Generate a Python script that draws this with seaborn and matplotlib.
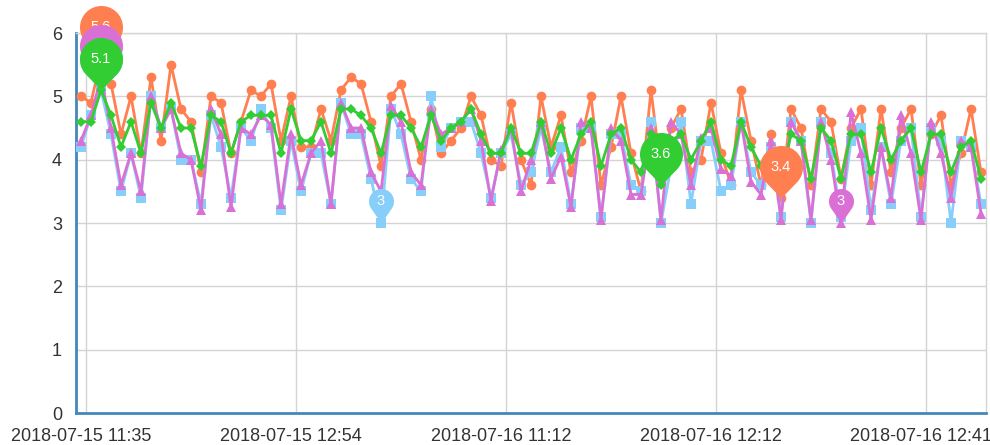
import numpy as np
import pandas as pd
import matplotlib
matplotlib.use("Agg")
import matplotlib.pyplot as plt
from matplotlib.path import Path
import seaborn as sns

# ---------------- data ----------------
tick_labels = ["2018-07-15 11:35", "2018-07-15 12:54", "2018-07-16 11:12",
               "2018-07-16 12:12", "2018-07-16 12:41"]
label_interval = 21

series_names = ["A", "B", "C", "D"]

orange = [5.0, 4.9, 5.6, 5.2, 4.4, 5.0, 4.1, 5.3, 4.3, 5.5,
          4.8, 4.6, 3.8, 5.0, 4.9, 4.1, 4.6, 5.1, 5.0, 5.2,
          4.3, 5.0, 4.2, 4.2, 4.8, 4.3, 5.1, 5.3, 5.2, 4.6,
          3.9, 5.0, 5.2, 4.6, 4.0, 4.8, 4.1, 4.3, 4.5, 5.0,
          4.7, 4.0, 3.9, 4.9, 4.0, 3.6, 5.0, 4.2, 4.7, 3.8,
          4.3, 5.0, 3.6, 4.2, 5.0, 4.1, 3.5, 5.1, 3.8, 4.5,
          4.8, 3.8, 4.0, 4.9, 4.1, 3.6, 5.1, 4.3, 3.6, 4.4,
          3.4, 4.8, 4.5, 3.6, 4.8, 4.6, 3.7, 4.5, 4.8, 3.6,
          4.8, 3.8, 4.5, 4.8, 3.6, 4.4, 4.7, 3.6, 4.1, 4.8, 3.8]

blue = [4.2, 4.7, 5.1, 4.4, 3.5, 4.1, 3.4, 5.0, 4.5, 4.8,
        4.0, 4.0, 3.3, 4.7, 4.2, 3.4, 4.5, 4.3, 4.8, 4.5,
        3.2, 4.3, 3.5, 4.1, 4.1, 3.3, 4.9, 4.4, 4.4, 3.7,
        3.0, 4.8, 4.4, 3.7, 3.5, 5.0, 4.2, 4.5, 4.6, 4.6,
        4.1, 3.4, 4.1, 4.4, 3.6, 3.8, 4.5, 3.8, 4.2, 3.3,
        4.5, 4.5, 3.1, 4.4, 4.4, 3.6, 3.5, 4.6, 3.0, 3.9,
        4.6, 3.3, 4.3, 4.3, 3.5, 3.6, 4.6, 3.8, 3.6, 4.2,
        3.1, 4.6, 4.3, 3.0, 4.6, 4.1, 3.1, 4.3, 4.5, 3.2,
        4.2, 3.3, 4.3, 4.5, 3.1, 4.5, 4.3, 3.0, 4.3, 4.2, 3.3]

purple = [4.3, 4.7, 5.3, 4.5, 3.6, 4.1, 3.5, 5.0, 4.5, 4.8,
          4.1, 4.0, 3.2, 4.8, 4.4, 3.25, 4.5, 4.4, 4.7, 4.55,
          3.3, 4.4, 3.6, 4.1, 4.3, 3.3, 4.9, 4.5, 4.5, 3.8,
          3.5, 4.85, 4.6, 3.8, 3.6, 4.8, 4.4, 4.5, 4.6, 4.8,
          4.3, 3.35, 4.15, 4.5, 3.5, 4.0, 4.6, 3.7, 4.05, 3.25,
          4.6, 4.5, 3.05, 4.5, 4.3, 3.45, 3.45, 4.5, 3.05, 4.6,
          4.4, 3.6, 4.35, 4.5, 3.85, 3.75, 4.6, 3.65, 3.45, 4.3,
          3.05, 4.6, 4.3, 3.05, 4.6, 4.0, 3.0, 4.75, 4.1, 3.05,
          4.2, 3.4, 4.7, 4.1, 3.05, 4.6, 4.1, 3.4, 4.3, 4.2, 3.15]

green = [4.6, 4.6, 5.1, 4.7, 4.2, 4.6, 4.1, 4.9, 4.5, 4.9,
         4.5, 4.5, 3.9, 4.7, 4.6, 4.1, 4.6, 4.7, 4.7, 4.7,
         4.1, 4.8, 4.3, 4.3, 4.6, 4.1, 4.8, 4.8, 4.7, 4.5,
         4.1, 4.7, 4.7, 4.5, 4.2, 4.7, 4.3, 4.5, 4.6, 4.8,
         4.4, 4.1, 4.1, 4.5, 4.1, 4.1, 4.6, 4.1, 4.5, 4.0,
         4.4, 4.6, 3.9, 4.4, 4.5, 4.0, 3.8, 4.4, 3.6, 4.3,
         4.4, 4.0, 4.3, 4.6, 4.0, 3.9, 4.6, 4.2, 3.9, 3.9,
         3.7, 4.4, 4.3, 3.7, 4.5, 4.3, 3.7, 4.4, 4.4, 3.8,
         4.5, 4.0, 4.3, 4.5, 3.8, 4.4, 4.4, 3.8, 4.2, 4.3, 3.7]

colors = ["#ff7f50", "#87cefa", "#da70d6", "#32cd32"]
markers = ["o", "s", "^", "D"]
msizes = [7.0, 6.5, 7.5, 5.5]

# ---------------- figure ----------------
sns.set_theme(style="white")
plt.rcParams["font.family"] = ["Liberation Sans", "DejaVu Sans"]

W, H, DPI = 990, 445, 100
fig = plt.figure(figsize=(W / DPI, H / DPI), dpi=DPI)
ax = fig.add_axes([76 / W, 32 / H, 910 / W, 380 / H])

all_series = [orange, blue, purple, green]
n = len(orange)
idx = np.arange(n)
frames = []
for name, vals in zip(series_names, all_series):
    frames.append(pd.DataFrame({"i": idx, "v": vals, "s": name}))
df = pd.concat(frames, ignore_index=True)

for k, name in enumerate(series_names):
    sub = df[df["s"] == name]
    sns.lineplot(data=sub, x="i", y="v", ax=ax, color=colors[k],
                 marker=markers[k], markersize=msizes[k], markeredgewidth=0,
                 linewidth=2.0, zorder=3 + k, errorbar=None)

ax.set_xlim(-0.5, n - 0.5)
ax.set_ylim(0, 6)
ax.set_xlabel("")
ax.set_ylabel("")

# axes styling
ax.set_yticks(range(7))
ax.set_yticklabels([str(v) for v in range(7)])
label_pos = [label_interval * k for k in range(len(tick_labels))]
ax.set_xticks(label_pos)
ax.set_xticklabels(tick_labels)
ax.set_xticks([p + 0.5 for p in label_pos], minor=True)
ax.tick_params(axis="x", which="major", length=0, pad=11, labelsize=13, colors="#333333")
ax.tick_params(axis="x", which="minor", length=5, width=1, color="#4488bb", direction="out")
ax.tick_params(axis="y", which="major", length=0, pad=10, labelsize=13, colors="#333333")
ax.yaxis.grid(True, color="#d4d4d4", linewidth=1)
ax.xaxis.grid(True, which="minor", color="#d4d4d4", linewidth=1)
ax.xaxis.grid(False, which="major")
ax.set_axisbelow(True)
for side in ["left", "bottom"]:
    ax.spines[side].set_color("#4488bb")
    ax.spines[side].set_linewidth(2)
for side in ["top", "right"]:
    ax.spines[side].set_color("#d4d4d4")
    ax.spines[side].set_linewidth(1)


# ---------------- mark points (pins) ----------------
def pin_path(R, d):
    phi = np.arccos(R / d)
    a0 = phi - np.pi / 2
    a1 = 1.5 * np.pi - phi
    ang = np.linspace(a0, a1, 80)
    verts = [(0.0, 0.0)] + list(zip(R * np.cos(ang), d + R * np.sin(ang))) + [(0.0, 0.0)]
    codes = [Path.MOVETO] + [Path.LINETO] * len(ang) + [Path.CLOSEPOLY]
    return Path(verts, codes)


px2pt = 72.0 / DPI
z = 20
for k, vals in enumerate(all_series):
    arr = np.array(vals)
    for j in (int(np.argmax(arr)), int(np.argmin(arr))):
        v = arr[j]
        txt = f"{v:g}"
        if len(txt) == 1:
            R, d = 12.5, 22.0
        else:
            R, d = 21.5, 31.0
        ms_px = 2 * (d + R)
        ax.scatter([j], [v], marker=pin_path(R, d), s=(ms_px * px2pt) ** 2,
                   color=colors[k], linewidths=0, zorder=z, clip_on=False)
        ax.annotate(txt, (j, v), xytext=(0, d * px2pt), textcoords="offset points",
                    ha="center", va="center", color="white", fontsize=10.5,
                    zorder=z + 1, annotation_clip=False)
        z += 2

fig.savefig("out.png", dpi=DPI, facecolor="white")
